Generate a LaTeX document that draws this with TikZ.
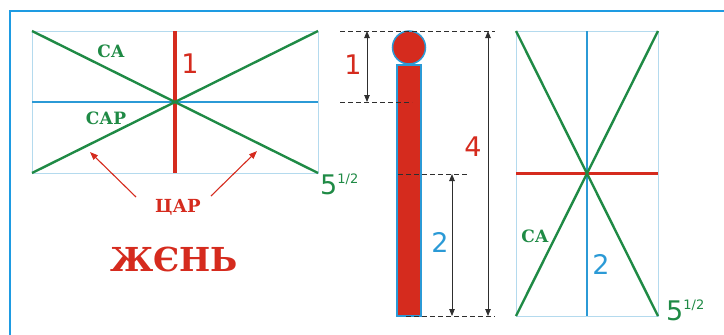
\documentclass[tikz,border=0pt]{standalone}
\usepackage{fontspec}
\setmainfont{DejaVu Sans}
\newfontfamily\slavfont{DejaVu Serif}
\usetikzlibrary{arrows.meta,calc}
\definecolor{flagred}{HTML}{D52B1E}
\definecolor{flaggreen}{HTML}{1F8A45}
\definecolor{flagblue}{HTML}{2B9AD6}
\definecolor{framecol}{HTML}{1E9BE2}
\definecolor{thinblue}{HTML}{B4DAEE}
\definecolor{dimcol}{HTML}{2E2E2E}

\begin{document}
\begin{tikzpicture}[x=1pt, y=-1pt, >={Triangle[length=7pt,width=5.5pt]},
    num/.style={font=\fontsize{27}{27}\selectfont, inner sep=0pt},
    word/.style={font=\slavfont\bfseries\fontsize{17}{17}\selectfont, inner sep=0pt},
    dimline/.style={dimcol, line width=0.8pt, <->},
    guide/.style={dimcol, line width=1pt, dash pattern=on 5pt off 3pt}]
    \useasboundingbox (0,0) rectangle (724,335);
    \draw[framecol, line width=2.8pt] (10,340) -- (10,11) -- (730,11);

    % flag lying down
    \coordinate (A1) at (32,31);
    \coordinate (A2) at (318,31);
    \coordinate (A3) at (318,173);
    \coordinate (A4) at (32,173);
    \draw[thinblue, line width=0.8pt] (A1) rectangle (A3);
    \draw[flagblue, line width=2.7pt] ($(A1)!0.5!(A4)$) -- ($(A2)!0.5!(A3)$);
    \draw[flagred, line width=3.3pt] ($(A1)!0.5!(A2)$) -- ($(A4)!0.5!(A3)$);
    \draw[flaggreen, line width=2.4pt] (A1) -- (A3) (A2) -- (A4);

    \node[word, flaggreen] (sa1) at (111,51) {СА};
    \node[word, flaggreen] (sar) at (106,118) {САР};
    \node[num, flagred] (one1) at (190,64) {1};
    \node[num, flaggreen, anchor=base west] (fiveA) at (320,194)
        {5\raisebox{11pt}{\fontsize{13}{13}\selectfont 1/2}};

    \node[word, flagred, font=\slavfont\bfseries\fontsize{18}{18}\selectfont] (tsar) at (178,207) {ЦАР};
    \coordinate (tipL) at (90,152);
    \coordinate (tipR) at (257,151);
    \draw[flagred, line width=1.1pt, {}-{Triangle[length=8pt,width=6pt]}] (136,197) -- (tipL);
    \draw[flagred, line width=1.1pt, {}-{Triangle[length=8pt,width=6pt]}] (211,196) -- (tipR);
    \node[flagred, inner sep=0pt, font=\slavfont\bfseries\fontsize{33}{33}\selectfont] (zhen) at (174,259) {ЖЄНЬ};

    % pole
    \coordinate (top) at (409,31);
    \coordinate (bot) at (409,316);
    \draw[flagblue, fill=flagred, line width=1.5pt] (397,65) rectangle (421,316);
    \draw[flagblue, fill=flagred, line width=1.5pt] (409,47.5) circle (16.5);

    \coordinate (g1a) at (340,31);  \coordinate (g1b) at (495,31);
    \coordinate (g2a) at (340,102); \coordinate (g2b) at (412,102);
    \coordinate (g3a) at (398,174); \coordinate (g3b) at (468,174);
    \coordinate (g4a) at (406,316); \coordinate (g4b) at (495,316);
    \draw[guide] (g1a) -- (g1b);
    \draw[guide] (g2a) -- (g2b);
    \draw[guide] (g3a) -- (g3b);
    \draw[guide] (g4a) -- (g4b);

    \draw[dimline] (367,31) -- (367,102);
    \draw[dimline] (488,31) -- (488,316);
    \draw[dimline] (452,174) -- (452,316);
    \node[num, flagred] (one2) at (353,65) {1};
    \node[num, flagred] (four) at (473,147) {4};
    \node[num, flagblue] (two1) at (440,242) {2};

    % flag hanging
    \coordinate (B1) at (516,31);
    \coordinate (B2) at (658,31);
    \coordinate (B3) at (658,316);
    \coordinate (B4) at (516,316);
    \draw[thinblue, line width=0.8pt] (B1) rectangle (B3);
    \draw[flagred, line width=3.3pt] ($(B1)!0.5!(B4)$) -- ($(B2)!0.5!(B3)$);
    \draw[flagblue, line width=2.7pt] ($(B1)!0.5!(B2)$) -- ($(B4)!0.5!(B3)$);
    \draw[flaggreen, line width=2.4pt] (B1) -- (B3) (B2) -- (B4);

    \node[word, flaggreen] (sa2) at (535,236) {СА};
    \node[num, flagblue] (two2) at (601,264) {2};
    \node[num, flaggreen, anchor=base west] (fiveB) at (666,320)
        {5\raisebox{11pt}{\fontsize{13}{13}\selectfont 1/2}};
\end{tikzpicture}
\end{document}
